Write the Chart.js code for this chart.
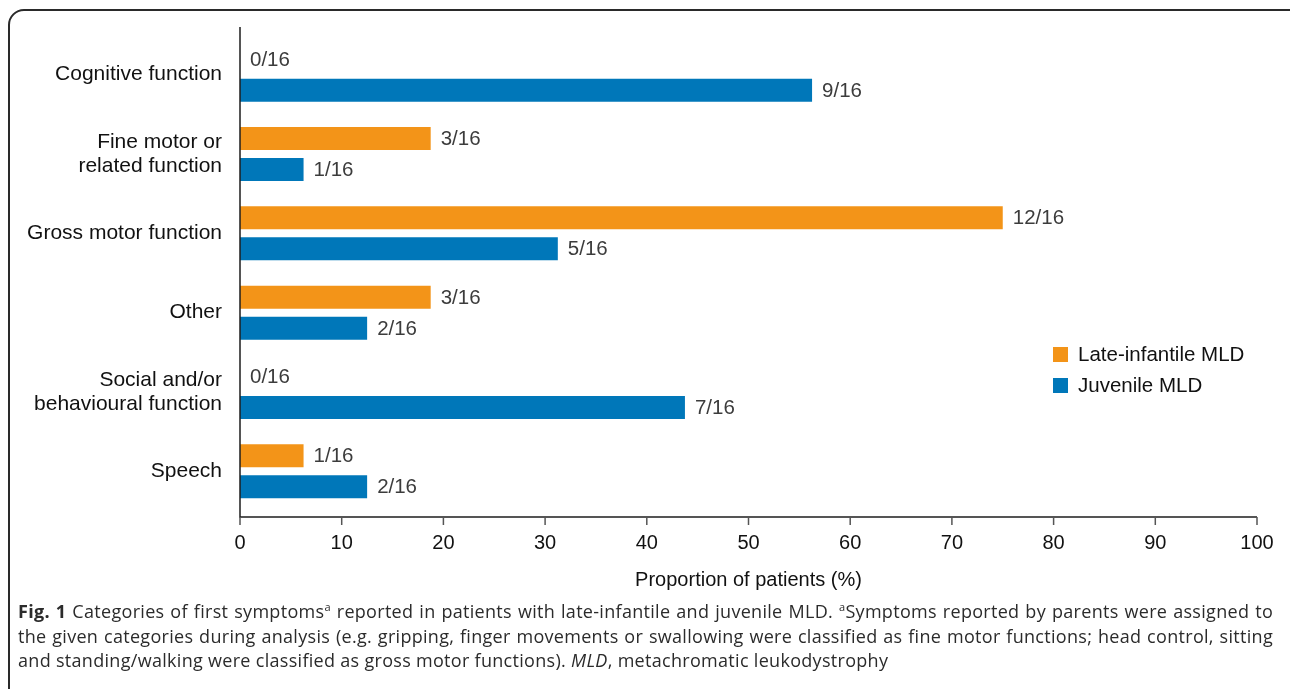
<!DOCTYPE html>
<html>
<head>
<meta charset="utf-8">
<script src="https://cdn.jsdelivr.net/npm/chart.js@4"></script>
<style>
    body { margin: 0; background: #fff; }
    .figure { position: relative; width: 1290px; height: 689px; overflow: hidden; }
    .figure__box {
        position: absolute; left: 8px; top: 9px; width: 1300px; height: 720px;
        border: 2px solid #2a2a2a; border-radius: 16px; box-sizing: border-box;
    }
    .figure__chart { position: absolute; left: 0; top: 0; }
    .figure__caption {
        position: absolute; left: 18px; top: 599px; width: 1255px;
        font-family: "Open Sans", sans-serif; font-size: 18px; line-height: 24.5px;
        letter-spacing: 0.3px; color: #2b2b2b; white-space: nowrap;
    }
    .figure__caption .line { text-align: justify; text-align-last: justify; }
    .figure__caption .line--last { text-align: left; text-align-last: left; }
    .figure__caption sup { font-size: 11px; line-height: 0; }
</style>
</head>
<body>
<div class="figure">
    <div class="figure__box"></div>
    <canvas class="figure__chart" id="chart" width="1290" height="689"></canvas>
    <div class="figure__caption">
        <div class="line"><b>Fig. 1</b> Categories of first symptoms<sup>a</sup> reported in patients with late-infantile and juvenile MLD. <sup>a</sup>Symptoms reported by parents were assigned to</div>
        <div class="line">the given categories during analysis (e.g. gripping, finger movements or swallowing were classified as fine motor functions; head control, sitting</div>
        <div class="line line--last">and standing/walking were classified as gross motor functions). <i>MLD</i>, metachromatic leukodystrophy</div>
    </div>
</div>
<script>
const categories = [
    'Cognitive function',
    ['Fine motor or', 'related function'],
    'Gross motor function',
    'Other',
    ['Social and/or', 'behavioural function'],
    'Speech'
];
const lateInfantile = [0, 18.75, 75, 18.75, 0, 6.25];
const juvenile = [56.25, 6.25, 31.25, 12.5, 43.75, 12.5];
const lateInfantileCounts = ['0/16', '3/16', '12/16', '3/16', '0/16', '1/16'];
const juvenileCounts = ['9/16', '1/16', '5/16', '2/16', '7/16', '2/16'];
const xTicks = [0, 10, 20, 30, 40, 50, 60, 70, 80, 90, 100];

const FONT = '"Liberation Sans", Arial, sans-serif';
const ORANGE = '#f39418';
const BLUE = '#0077b9';

// axis lines drawn a little past the chart area like the original
const axesPlugin = {
    id: 'axes',
    afterDraw(chart) {
        const { ctx, chartArea, scales } = chart;
        const yAxis = chartArea.bottom + 6;
        ctx.save();
        ctx.strokeStyle = '#1e1e1e';
        ctx.lineWidth = 1.5;
        ctx.beginPath();
        ctx.moveTo(chartArea.left, chartArea.top - 8);
        ctx.lineTo(chartArea.left, yAxis);
        ctx.lineTo(chartArea.right, yAxis);
        ctx.stroke();
        ctx.strokeStyle = '#555';
        xTicks.forEach(t => {
            const x = scales.x.getPixelForValue(t);
            ctx.beginPath();
            ctx.moveTo(x, yAxis);
            ctx.lineTo(x, yAxis + 8);
            ctx.stroke();
        });
        ctx.restore();
    }
};

const valueLabels = {
    id: 'valueLabels',
    afterDatasetsDraw(chart) {
        const { ctx } = chart;
        const texts = [lateInfantileCounts, juvenileCounts];
        ctx.save();
        ctx.font = '20.5px ' + FONT;
        ctx.fillStyle = '#3c3c3c';
        ctx.textAlign = 'left';
        ctx.textBaseline = 'middle';
        chart.data.datasets.forEach((ds, i) => {
            chart.getDatasetMeta(i).data.forEach((bar, j) => {
                ctx.fillText(texts[i][j], bar.x + 10, bar.y + 1);
            });
        });
        ctx.restore();
    }
};

const legendPlugin = {
    id: 'boxLegend',
    afterDraw(chart) {
        const { ctx } = chart;
        ctx.save();
        ctx.font = '20.5px ' + FONT;
        ctx.textBaseline = 'middle';
        chart.data.datasets.forEach((ds, i) => {
            const y = 347 + i * 31;
            ctx.fillStyle = ds.backgroundColor;
            ctx.fillRect(1053, y, 15, 15);
            ctx.fillStyle = '#111';
            ctx.fillText(ds.label, 1078, y + 8);
        });
        ctx.restore();
    }
};

new Chart(document.getElementById('chart'), {
    type: 'bar',
    data: {
        labels: categories,
        datasets: [
            { label: 'Late-infantile MLD', data: lateInfantile, backgroundColor: ORANGE },
            { label: 'Juvenile MLD', data: juvenile, backgroundColor: BLUE }
        ]
    },
    options: {
        indexAxis: 'y',
        responsive: false,
        animation: false,
        devicePixelRatio: 1,
        categoryPercentage: 0.782,
        barPercentage: 0.742,
        layout: { padding: { left: 0, top: 35, right: 33, bottom: 0 } },
        scales: {
            x: {
                min: 0,
                max: 100,
                afterFit: scale => { scale.height = 178; },
                afterBuildTicks: scale => { scale.ticks = xTicks.map(v => ({ value: v })); },
                grid: { display: false },
                border: { display: false },
                ticks: { padding: 12, color: '#111', font: { family: FONT, size: 20 } },
                title: {
                    display: true,
                    text: 'Proportion of patients (%)',
                    color: '#111',
                    font: { family: FONT, size: 20 },
                    padding: { top: 0, bottom: 97 }
                }
            },
            y: {
                afterFit: scale => { scale.width = 240; },
                grid: { display: false },
                border: { display: false },
                ticks: { padding: 10, color: '#111', font: { family: FONT, size: 21, lineHeight: 1.15 } }
            }
        },
        plugins: {
            legend: { display: false },
            tooltip: { enabled: false }
        }
    },
    plugins: [axesPlugin, valueLabels, legendPlugin]
});
</script>
</body>
</html>
